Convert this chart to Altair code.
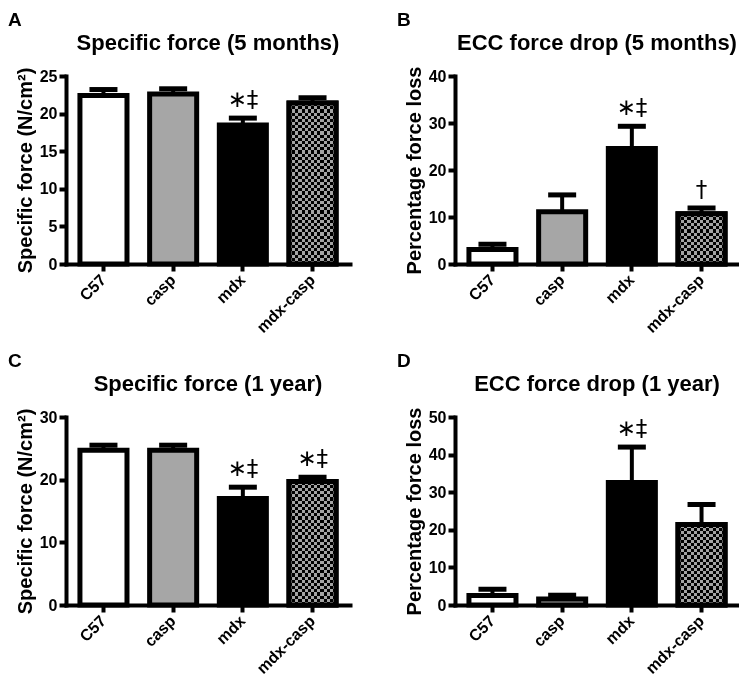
import altair as alt
import pandas as pd

groups = ["C57", "casp", "mdx", "mdx-casp"]

# Panel A: Specific force (5 months)
a_mean = [22.4, 22.6, 18.5, 21.4]
a_err = [0.8, 0.7, 0.9, 0.7]
a_note = ["", "", "∗‡", ""]

# Panel B: ECC force drop (5 months)
b_mean = [3.1, 11.1, 24.6, 10.7]
b_err = [1.1, 3.6, 4.7, 1.2]
b_note = ["", "", "∗‡", "†"]

# Panel C: Specific force (1 year)
c_mean = [24.7, 24.7, 17.0, 19.7]
c_err = [0.8, 0.8, 1.8, 0.7]
c_note = ["", "", "∗‡", "∗‡"]

# Panel D: ECC force drop (1 year)
d_mean = [2.5, 1.6, 32.6, 21.4]
d_err = [1.7, 1.0, 9.4, 5.3]
d_note = ["", "", "∗‡", ""]

fills = ["#ffffff", "#a6a6a6", "#000000", "#000000"]
GRAY = "#a3a3a3"
FONT = "Liberation Sans"
W, H = 284, 188
P_IN, P_OUT = 0.325, 0.2
CELL = 3.15


def stripes(n, along_x):
    stops = []
    for k in range(n):
        col = GRAY if k % 2 == 0 else "#000000"
        stops.append({"offset": k / n, "color": col})
        stops.append({"offset": (k + 1) / n, "color": col})
    g = {"gradient": "linear", "stops": stops}
    if along_x:
        g.update(x1=0, x2=1, y1=0, y2=0)
    else:
        g.update(x1=0, x2=0, y1=0, y2=1)
    return g


def panel(letter, title, ytitle, means, errs, notes, ymax, ystep):
    df = pd.DataFrame({
        "group": groups,
        "mean": means,
        "upper": [m + e for m, e in zip(means, errs)],
        "note": notes,
    })
    x = alt.X("group:N", sort=groups,
              scale=alt.Scale(paddingInner=P_IN, paddingOuter=P_OUT),
              axis=alt.Axis(title=None, labelAngle=-45, labelAlign="right",
                            labelBaseline="middle", labelPadding=6))
    yscale = alt.Scale(domain=[0, ymax], nice=False, zero=True)
    yaxis = alt.Axis(values=list(range(0, ymax + 1, ystep)), title=ytitle, format="d",
                     titleFontSize=20, titleFontWeight="bold", titleColor="black",
                     titlePadding=4, labelPadding=2, labelOverlap=False, tickCount=50)
    y = alt.Y("mean:Q", scale=yscale, axis=yaxis)
    yu = alt.Y("upper:Q", scale=yscale, axis=yaxis)
    base = alt.Chart(df)
    bars = base.mark_bar(stroke="black", strokeWidth=5).encode(
        x=x, y=y,
        fill=alt.Fill("group:N", scale=alt.Scale(domain=groups, range=fills), legend=None))

    step = W / (len(groups) - P_IN + 2 * P_OUT)
    bw = step * (1 - P_IN)
    nx = max(2, round(bw / CELL))
    mc = means[groups.index("mdx-casp")]
    ny = max(2, round(mc / ymax * H / CELL))
    pat = base.transform_filter(alt.datum.group == "mdx-casp")
    pat_h = pat.mark_bar(fill=stripes(ny, False), strokeWidth=0).encode(x=x, y=y)
    pat_v = pat.mark_bar(fill=stripes(nx, True), strokeWidth=0, blend="difference").encode(x=x, y=y)
    outline = pat.mark_bar(fillOpacity=0, stroke="black", strokeWidth=5).encode(x=x, y=y)

    whisker = base.mark_rule(color="black", strokeWidth=4, opacity=1).encode(x=x, y=y, y2="upper:Q")
    cap = base.mark_tick(color="black", size=28, thickness=5, opacity=1).encode(x=x, y=yu)
    note = base.mark_text(font="DejaVu Sans", fontSize=23, color="black", baseline="bottom",
                          dy=-6).encode(x=x, y=yu, text="note:N")

    lab = alt.Chart(pd.DataFrame({"t": [letter]})).mark_text(
        font=FONT, fontSize=19, fontWeight="bold", align="left", baseline="alphabetic",
        color="black").encode(text="t:N", x=alt.value(-58), y=alt.value(-50))
    ttl = alt.Chart(pd.DataFrame({"t": [title]})).mark_text(
        font=FONT, fontSize=22, fontWeight="bold", align="center", baseline="alphabetic",
        color="black").encode(text="t:N", x=alt.value(W / 2), y=alt.value(-26))

    return alt.layer(bars, pat_h, pat_v, outline, whisker, cap, note, lab, ttl).properties(
        width=W, height=H)


A = panel("A", "Specific force (5 months)", "Specific force (N/cm²)", a_mean, a_err, a_note, 25, 5)
B = panel("B", "ECC force drop (5 months)", "Percentage force loss", b_mean, b_err, b_note, 40, 10)
C = panel("C", "Specific force (1 year)", "Specific force (N/cm²)", c_mean, c_err, c_note, 30, 10)
D = panel("D", "ECC force drop (1 year)", "Percentage force loss", d_mean, d_err, d_note, 50, 10)

chart = alt.concat(A, B, C, D, columns=2, spacing={"row": 16, "column": 47}).properties(
    padding={"left": 0, "top": 3, "right": 0, "bottom": 0}
).configure_view(stroke=None).configure_axis(
    domainColor="black", domainWidth=4, domainCap="square", tickColor="black", tickWidth=4,
    tickSize=7, labelColor="black", labelFontSize=16, labelFontWeight="bold",
    labelFont=FONT, titleFont=FONT, grid=False
).configure_text(font=FONT)

chart.save("out.html", embed_options={"renderer": "svg", "actions": False})
